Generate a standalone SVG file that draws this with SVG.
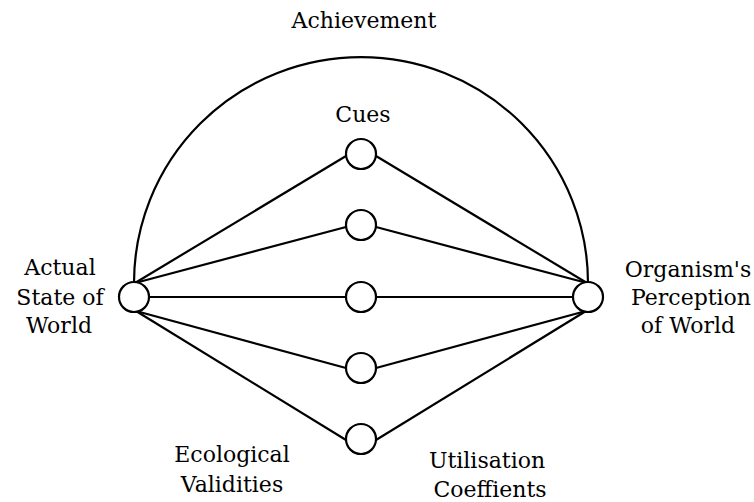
<svg xmlns="http://www.w3.org/2000/svg" width="754" height="502" viewBox="0 0 754 502">
<style>
.ln{fill:none;stroke:#000;stroke-width:2.2}
.nd{fill:#fff;stroke:#000;stroke-width:2.2}
.t{font-family:"DejaVu Serif","Liberation Serif",serif;font-size:22px;fill:#000;text-anchor:middle}
</style>
<rect width="754" height="502" fill="#fff"/>
<g id="connectors">
<path class="ln" d="M134 283 A227 226 0 0 1 588 283"/>
<line class="ln" x1="135" y1="283" x2="346" y2="156"/>
<line class="ln" x1="135" y1="283" x2="346" y2="227"/>
<line class="ln" x1="150" y1="297" x2="346" y2="297"/>
<line class="ln" x1="136" y1="311" x2="346" y2="368"/>
<line class="ln" x1="136" y1="311" x2="346" y2="440"/>
<line class="ln" x1="587" y1="283" x2="376" y2="156"/>
<line class="ln" x1="587" y1="283" x2="376" y2="227"/>
<line class="ln" x1="573" y1="297" x2="376" y2="297"/>
<line class="ln" x1="586" y1="311" x2="376" y2="368"/>
<line class="ln" x1="586" y1="311" x2="376" y2="440"/>
</g>
<g id="world">
<circle class="nd" cx="134" cy="297" r="15"/>
<text class="t" x="60" y="275">Actual</text>
<text class="t" x="60" y="305">State of</text>
<text class="t" x="59" y="333">World</text>
</g>
<g id="perception">
<circle class="nd" cx="588" cy="297" r="15"/>
<text class="t" x="688" y="277">Organism's</text>
<text class="t" x="691" y="305">Perception</text>
<text class="t" x="688" y="333">of World</text>
</g>
<g id="cue1"><circle class="nd" cx="361" cy="154" r="15"/></g>
<g id="cue2"><circle class="nd" cx="361" cy="225" r="15"/></g>
<g id="cue3"><circle class="nd" cx="361" cy="297" r="15"/></g>
<g id="cue4"><circle class="nd" cx="361" cy="368" r="15"/></g>
<g id="cue5"><circle class="nd" cx="361" cy="439" r="15"/></g>
<g id="labels">
<text class="t" x="364" y="28">Achievement</text>
<text class="t" x="363" y="122">Cues</text>
<text class="t" x="232" y="462">Ecological</text>
<text class="t" x="232" y="492">Validities</text>
<text class="t" x="487" y="468">Utilisation</text>
<text class="t" x="490" y="497">Coeffients</text>
</g>
</svg>
